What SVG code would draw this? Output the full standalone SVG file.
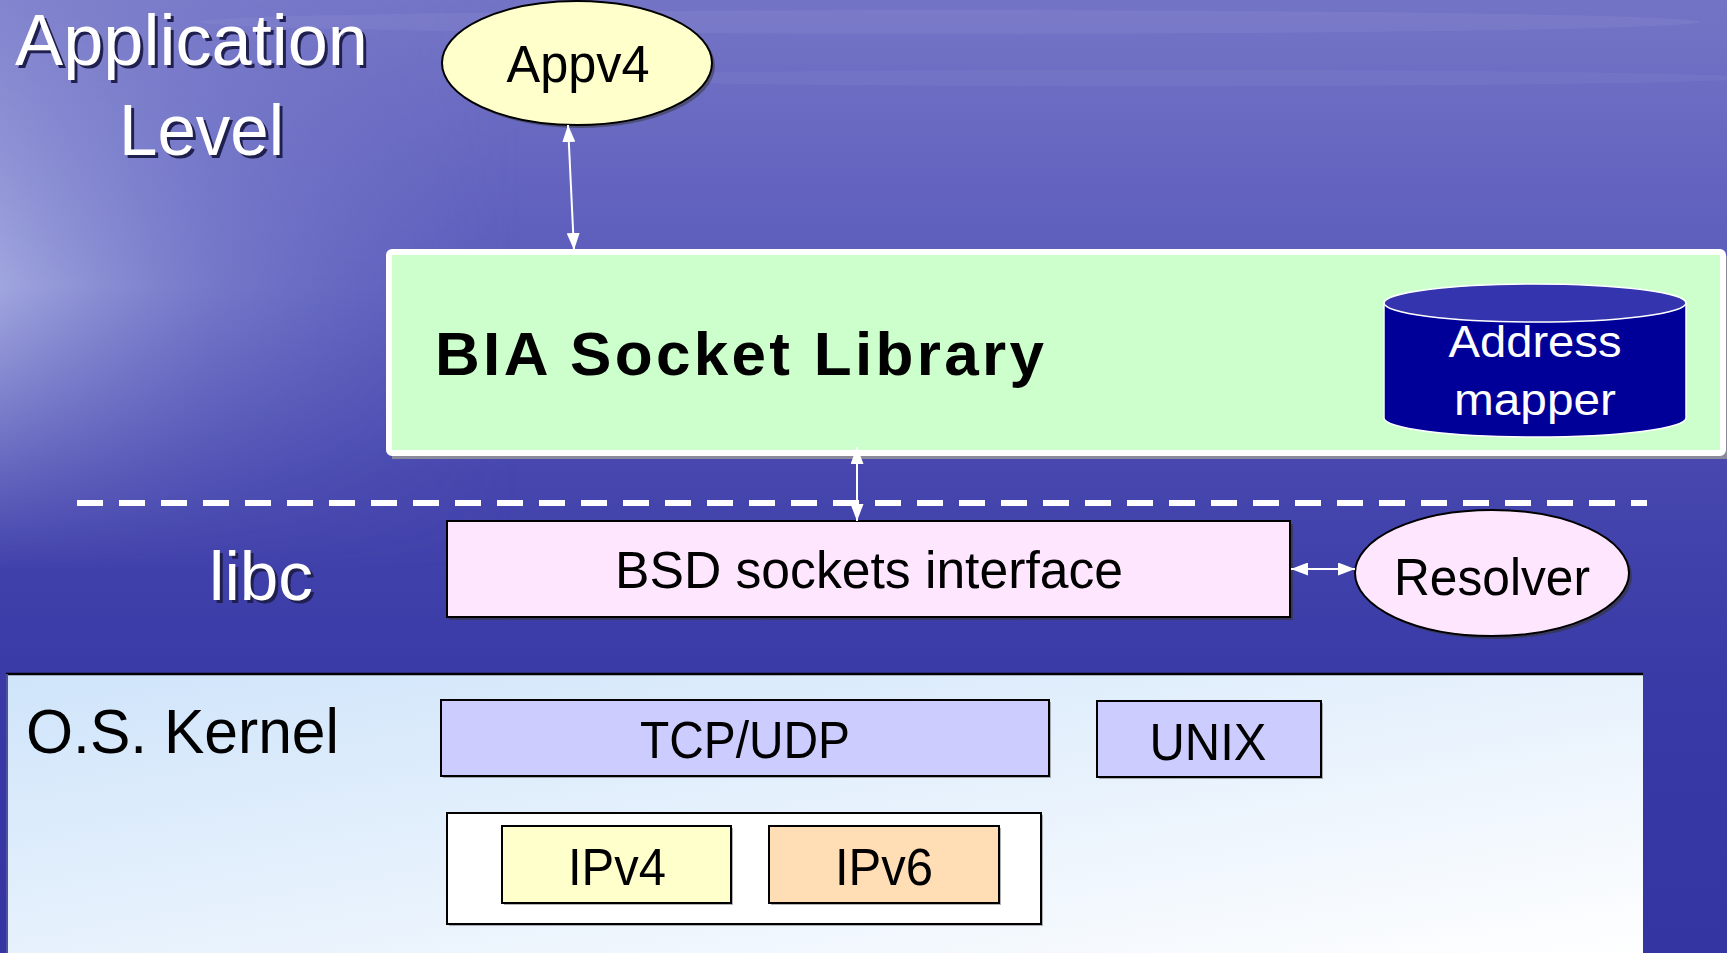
<svg xmlns="http://www.w3.org/2000/svg" width="1727" height="953" viewBox="0 0 1727 953">
  <defs>
    <linearGradient id="bgV" x1="0" y1="0" x2="0" y2="1">
      <stop offset="0" stop-color="#7474C6"/>
      <stop offset="0.25" stop-color="#5E5FBD"/>
      <stop offset="0.5" stop-color="#4646AE"/>
      <stop offset="0.75" stop-color="#3838A6"/>
      <stop offset="1" stop-color="#3434A2"/>
    </linearGradient>
    <linearGradient id="bgL" x1="0" y1="0" x2="1" y2="0">
      <stop offset="0" stop-color="#B8C0EA" stop-opacity="0.75"/>
      <stop offset="0.12" stop-color="#A0A8E0" stop-opacity="0.4"/>
      <stop offset="0.3" stop-color="#8088D0" stop-opacity="0"/>
    </linearGradient>
    <linearGradient id="bgLmask" x1="0" y1="0" x2="0" y2="1">
      <stop offset="0" stop-color="#fff" stop-opacity="0.3"/>
      <stop offset="0.3" stop-color="#fff" stop-opacity="1"/>
      <stop offset="0.6" stop-color="#fff" stop-opacity="0"/>
    </linearGradient>
    <mask id="leftMask">
      <rect x="0" y="0" width="1727" height="953" fill="url(#bgLmask)"/>
    </mask>
    <linearGradient id="kernelG" x1="0" y1="0" x2="1" y2="1">
      <stop offset="0" stop-color="#CFE4FA"/>
      <stop offset="1" stop-color="#FFFFFF"/>
    </linearGradient>
    <marker id="ah" viewBox="0 0 10 10" refX="10" refY="5" markerWidth="17" markerHeight="13" markerUnits="userSpaceOnUse" orient="auto-start-reverse" preserveAspectRatio="none">
      <path d="M0,0 L10,5 L0,10 z" fill="#FFFFFF"/>
    </marker>
    <style>
      .box { stroke: #000; stroke-width: 2; }
      .lbl { font-family: "Liberation Sans", Arial, sans-serif; fill: #000; text-anchor: middle; }
      .wlbl { font-family: "Liberation Sans", Arial, sans-serif; fill: #FFFFFF; }
      .tshadow { fill: #202050; }
      .conn { stroke: #FFFFFF; stroke-width: 2; fill: none; marker-start: url(#ah); marker-end: url(#ah); }
    </style>
  </defs>

  <g id="background">
    <rect x="0" y="0" width="1727" height="953" fill="url(#bgV)"/>
    <rect x="0" y="0" width="1727" height="953" fill="url(#bgL)" mask="url(#leftMask)"/>
    <ellipse cx="950" cy="22" rx="750" ry="12" fill="#9A9AD8" opacity="0.18"/>
    <ellipse cx="1150" cy="78" rx="600" ry="8" fill="#9A9AD8" opacity="0.15"/>
  </g>

  <g id="application-level">
    <text class="wlbl tshadow" x="18" y="68" font-size="72" textLength="353" lengthAdjust="spacingAndGlyphs">Application</text>
    <text class="wlbl" x="15" y="65" font-size="72" textLength="353" lengthAdjust="spacingAndGlyphs">Application</text>
    <text class="wlbl tshadow" x="122" y="158" font-size="72" textLength="165" lengthAdjust="spacingAndGlyphs">Level</text>
    <text class="wlbl" x="119" y="155" font-size="72" textLength="165" lengthAdjust="spacingAndGlyphs">Level</text>
  </g>

  <g id="libc-label">
    <text class="wlbl tshadow" x="212" y="603" font-size="68" textLength="104" lengthAdjust="spacingAndGlyphs">libc</text>
    <text class="wlbl" x="209" y="600" font-size="68" textLength="104" lengthAdjust="spacingAndGlyphs">libc</text>
  </g>

  <g id="kernel">
    <rect x="6" y="674" width="1637" height="290" fill="url(#kernelG)"/>
    <line x1="6" y1="674" x2="1643" y2="674" stroke="#000" stroke-width="2.5"/>
    <line x1="7" y1="674" x2="7" y2="953" stroke="#5050A0" stroke-width="2"/>
    <text class="lbl" x="26" y="753" font-size="63" textLength="313" lengthAdjust="spacingAndGlyphs" style="text-anchor:start">O.S. Kernel</text>
  </g>

  <g id="dashed-divider">
    <line x1="77" y1="503" x2="1647" y2="503" stroke="#FFFFFF" stroke-width="6" stroke-dasharray="26 16"/>
  </g>

  <g id="appv4">
    <ellipse cx="580" cy="66" rx="135" ry="62" fill="#333" opacity="0.5"/>
    <ellipse cx="577" cy="63" rx="135" ry="62" fill="#FFFFCC" class="box"/>
    <text class="lbl" x="578" y="82" font-size="51" textLength="143" lengthAdjust="spacingAndGlyphs">Appv4</text>
  </g>

  <g id="bia-socket-library">
    <rect x="392" y="256" width="1335" height="203" fill="#8A8A9A"/>
    <rect x="389" y="252" width="1334" height="201" fill="#CCFFCC" stroke="#FFFFFF" stroke-width="6" rx="3"/>
    <text class="lbl" x="435" y="375" font-size="62" font-weight="bold" textLength="609" style="text-anchor:start">BIA Socket Library</text>
  </g>

  <g id="address-mapper">
    <path d="M1384,303 L1384,418 A151,19 0 0 0 1686,418 L1686,303" fill="#000099" stroke="#FFFFFF" stroke-width="1.5"/>
    <ellipse cx="1535" cy="303" rx="151" ry="19" fill="#3434AE" stroke="#FFFFFF" stroke-width="1.5"/>
    <text class="wlbl" x="1535" y="357" font-size="45" text-anchor="middle" textLength="173" lengthAdjust="spacingAndGlyphs">Address</text>
    <text class="wlbl" x="1535" y="415" font-size="45" text-anchor="middle" textLength="162" lengthAdjust="spacingAndGlyphs">mapper</text>
  </g>

  <g id="bsd-sockets">
    <rect x="449" y="524" width="844" height="96" fill="#333" opacity="0.6"/>
    <rect x="447" y="521" width="843" height="96" fill="#FFE6FF" class="box"/>
    <text class="lbl" x="869" y="588" font-size="51" textLength="508" lengthAdjust="spacingAndGlyphs">BSD sockets interface</text>
  </g>

  <g id="resolver">
    <ellipse cx="1495" cy="576" rx="137" ry="63" fill="#333" opacity="0.6"/>
    <ellipse cx="1492" cy="573" rx="137" ry="63" fill="#FFE6FF" class="box"/>
    <text class="lbl" x="1492" y="595" font-size="52" textLength="196" lengthAdjust="spacingAndGlyphs">Resolver</text>
  </g>

  <g id="tcp-udp">
    <rect x="443" y="702" width="608" height="76" fill="#666" opacity="0.5"/>
    <rect x="441" y="700" width="608" height="76" fill="#CCCCFF" class="box"/>
    <text class="lbl" x="745" y="758" font-size="51" textLength="210" lengthAdjust="spacingAndGlyphs">TCP/UDP</text>
  </g>

  <g id="unix">
    <rect x="1099" y="703" width="224" height="76" fill="#666" opacity="0.5"/>
    <rect x="1097" y="701" width="224" height="76" fill="#CCCCFF" class="box"/>
    <text class="lbl" x="1208" y="760" font-size="51" textLength="117" lengthAdjust="spacingAndGlyphs">UNIX</text>
  </g>

  <g id="ip-layer">
    <rect x="449" y="815" width="594" height="111" fill="#666" opacity="0.5"/>
    <rect x="447" y="813" width="594" height="111" fill="#FFFFFF" class="box"/>
  </g>

  <g id="ipv4">
    <rect x="504" y="828" width="229" height="77" fill="#666" opacity="0.5"/>
    <rect x="502" y="826" width="229" height="77" fill="#FFFFCC" class="box"/>
    <text class="lbl" x="617" y="885" font-size="51" textLength="98" lengthAdjust="spacingAndGlyphs">IPv4</text>
  </g>

  <g id="ipv6">
    <rect x="771" y="828" width="230" height="77" fill="#666" opacity="0.5"/>
    <rect x="769" y="826" width="230" height="77" fill="#FFDDB5" class="box"/>
    <text class="lbl" x="884" y="885" font-size="51" textLength="98" lengthAdjust="spacingAndGlyphs">IPv6</text>
  </g>

  <g id="connectors">
    <line class="conn" x1="568" y1="125" x2="574" y2="250"/>
    <line class="conn" x1="857" y1="447" x2="857" y2="521"/>
    <line class="conn" x1="1291" y1="569" x2="1355" y2="569"/>
  </g>
</svg>
